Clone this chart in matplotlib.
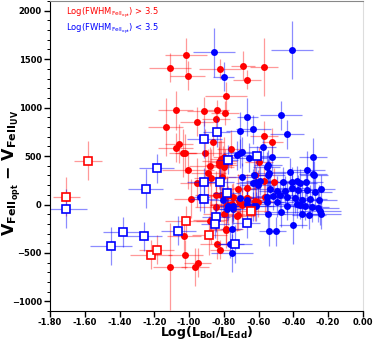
import numpy as np
import matplotlib
matplotlib.use('Agg')
from matplotlib import pyplot as plt
from matplotlib.ticker import MultipleLocator, FormatStrFormatter

# filled circles, Log(FWHM) > 3.5 (red)
red_x = [-1.018, -1.110, -1.008, -0.822, -0.690, -0.665, -0.568, -0.788, -1.077, -0.913,
         -0.842, -0.794, -0.955, -0.844, -1.135, -1.060, -1.077, -1.033, -1.022, -0.909,
         -0.761, -0.861, -0.823, -0.828, -0.882, -1.005, -0.890, -0.804, -0.792, -0.874,
         -0.809, -0.953, -0.717, -0.845, -0.989, -0.817, -0.784, -0.746, -0.778, -0.845,
         -0.669, -0.602, -0.755, -0.723, -0.800, -0.876, -0.787, -0.714, -0.621, -0.569,
         -0.522, -0.622, -0.569, -0.512, -1.110, -1.022, -0.966, -0.951, -0.838, -0.821,
         -1.029, -0.788, -0.880, -0.780, -0.696, -0.721, -0.596, -0.800, -0.800, -0.669,
         -0.698, -0.665, -0.563, -0.817, -0.827]
red_y = [1540, 1410, 1331, 1400, 1434, 1290, 1417, 1115, 971, 964,
         978, 944, 854, 879, 803, 628, 587, 529, 529, 529,
         573, 650, 453, 408, 395, 357, 323, 408, 426, 272,
         282, 226, 161, 100, 62, 100, 90, 76, -10, -27,
         69, 25, 7, -123, -99, -157, -253, 35, 35, 710,
         642, 305, 244, 230, -641, -518, -644, -603, -408, -466,
         -322, -260, -168, -3, 7, -113, 442, 494, 391, 168,
         -3, 66, 76, 467, 442]
red_xerr = [0.12, 0.12, 0.10, 0.12, 0.07, 0.08, 0.08, 0.12, 0.10, 0.10,
            0.07, 0.08, 0.10, 0.08, 0.10, 0.08, 0.10, 0.08, 0.06, 0.10,
            0.08, 0.06, 0.10, 0.08, 0.12, 0.15, 0.10, 0.08, 0.06, 0.10,
            0.08, 0.10, 0.10, 0.12, 0.10, 0.08, 0.10, 0.08, 0.10, 0.12,
            0.10, 0.10, 0.12, 0.10, 0.12, 0.10, 0.10, 0.08, 0.10, 0.08,
            0.06, 0.10, 0.08, 0.10, 0.10, 0.10, 0.08, 0.08, 0.10, 0.06,
            0.10, 0.08, 0.08, 0.10, 0.10, 0.10, 0.08, 0.06, 0.06, 0.08,
            0.10, 0.08, 0.10, 0.06, 0.06]
red_yerr = [180, 150, 150, 100, 150, 100, 300, 150, 200, 150,
            100, 120, 150, 120, 300, 200, 150, 250, 200, 250,
            200, 150, 300, 250, 200, 200, 250, 200, 150, 300,
            200, 250, 150, 250, 200, 200, 200, 150, 200, 250,
            150, 150, 200, 150, 200, 250, 200, 150, 200, 150,
            150, 150, 150, 150, 450, 150, 200, 150, 150, 100,
            200, 150, 200, 150, 150, 150, 150, 200, 150, 150,
            150, 150, 150, 200, 150]

# filled circles, Log(FWHM) < 3.5 (blue)
blue_x = [-0.855, -0.800, -0.409, -0.665, -0.472, -0.707, -0.630, -0.436, -0.577, -0.707,
          -0.698, -0.654, -0.525, -0.286, -0.320, -0.286, -0.420, -0.545, -0.554, -0.541,
          -0.545, -0.282, -0.698, -0.630, -0.612, -0.592, -0.602, -0.458, -0.410, -0.381,
          -0.362, -0.328, -0.238, -0.535, -0.496, -0.449, -0.410, -0.372, -0.324, -0.276,
          -0.554, -0.516, -0.478, -0.438, -0.391, -0.352, -0.304, -0.251, -0.362, -0.334,
          -0.295, -0.257, -0.243, -0.310, -0.248, -0.401, -0.538, -0.500, -0.755, -0.746,
          -0.775, -0.752, -0.765, -0.665, -0.612, -0.545, -0.468, -0.381, -0.554, -0.496,
          -0.438, -0.352, -0.937, -0.803, -0.746, -0.627, -0.630, -0.669, -0.707, -0.784,
          -0.725]
blue_y = [1571, 1317, 1595, 902, 923, 758, 776, 727, 591, 529,
          545, 484, 494, 487, 357, 313, 333, 408, 391, 329,
          305, 302, 282, 220, 237, 247, 203, 237, 237, 247,
          220, 237, 158, 158, 144, 144, 168, 151, 151, 134,
          82, 90, 100, 76, 66, 48, 56, 51, -3, -13,
          -27, -31, -99, -106, -62, -209, -278, -278, -250, -47,
          -13, -500, -404, 7, -20, -96, -82, 10, 31, 21,
          -13, -96, 82, 48, -20, 305, -20, 48, 66, -44,
          508]
blue_xerr = [0.12, 0.06, 0.12, 0.06, 0.12, 0.08, 0.10, 0.10, 0.08, 0.10,
             0.08, 0.10, 0.10, 0.08, 0.10, 0.08, 0.10, 0.08, 0.08, 0.10,
             0.10, 0.08, 0.08, 0.10, 0.10, 0.08, 0.10, 0.10, 0.10, 0.08,
             0.10, 0.10, 0.08, 0.12, 0.10, 0.10, 0.10, 0.10, 0.10, 0.10,
             0.12, 0.10, 0.10, 0.10, 0.10, 0.10, 0.10, 0.10, 0.10, 0.10,
             0.10, 0.12, 0.12, 0.10, 0.12, 0.08, 0.06, 0.06, 0.06, 0.08,
             0.06, 0.12, 0.08, 0.12, 0.10, 0.10, 0.10, 0.10, 0.10, 0.10,
             0.10, 0.10, 0.06, 0.08, 0.08, 0.08, 0.10, 0.10, 0.08, 0.08,
             0.08]
blue_yerr = [250, 150, 300, 200, 150, 200, 150, 150, 150, 150,
             150, 150, 150, 200, 200, 150, 150, 150, 150, 150,
             150, 150, 150, 150, 150, 150, 150, 150, 150, 150,
             150, 150, 150, 150, 150, 150, 150, 150, 150, 150,
             150, 150, 150, 150, 150, 150, 150, 150, 150, 150,
             150, 150, 150, 150, 150, 200, 150, 150, 150, 150,
             150, 200, 150, 150, 150, 150, 150, 150, 150, 150,
             150, 150, 150, 150, 150, 150, 150, 150, 150, 150,
             150]

# open squares
rsq_x = [-1.580, -1.706, -1.018, -0.884, -0.646, -1.221, -1.186]
rsq_y = [453, 79, -165, -319, -62, -518, -466]
rsq_xerr = [0.08, 0.08, 0.12, 0.10, 0.10, 0.12, 0.10]
rsq_yerr = [200, 200, 150, 200, 150, 150, 150]

bsq_x = [-1.706, -1.186, -1.250, -0.913, -0.842, -0.778, -0.608, -0.913, -0.824, -0.784,
         -0.913, -0.845, -0.849, -0.669, -1.378, -1.257, -1.062, -1.449, -0.738]
bsq_y = [-44, 375, 165, 676, 745, 463, 501, 230, 230, 120,
         62, -134, -199, -192, -284, -330, -271, -428, -408]
bsq_xerr = [0.12, 0.10, 0.10, 0.10, 0.08, 0.06, 0.08, 0.10, 0.08, 0.08,
            0.08, 0.08, 0.08, 0.08, 0.12, 0.10, 0.10, 0.12, 0.10]
bsq_yerr = [200, 150, 200, 200, 150, 150, 100, 150, 150, 150,
            150, 150, 150, 150, 150, 150, 150, 200, 200]

fig = plt.figure(figsize=(3.74, 3.43), dpi=100)
ax = fig.add_axes([0.134, 0.093, 0.836, 0.904])

ax.errorbar(red_x, red_y, xerr=red_xerr, yerr=red_yerr, fmt='none', ecolor='red', alpha=0.4, lw=0.9)
ax.errorbar(blue_x, blue_y, xerr=blue_xerr, yerr=blue_yerr, fmt='none', ecolor='blue', alpha=0.45, lw=0.9)
ax.plot(red_x, red_y, 'o', color='red', ms=5, mec='none')
ax.plot(blue_x, blue_y, 'o', color='blue', ms=5, mec='none')

ax.errorbar(rsq_x, rsq_y, xerr=rsq_xerr, yerr=rsq_yerr, fmt='none', ecolor='red', alpha=0.4, lw=0.9)
ax.errorbar(bsq_x, bsq_y, xerr=bsq_xerr, yerr=bsq_yerr, fmt='none', ecolor='blue', alpha=0.45, lw=0.9)
ax.plot(rsq_x, rsq_y, 's', mfc='white', mec='red', mew=1.2, ms=6)
ax.plot(bsq_x, bsq_y, 's', mfc='white', mec='blue', mew=1.2, ms=6)

ax.set_xlim(-1.8, 0.0)
ax.set_ylim(-1100, 2100)
ax.xaxis.set_major_locator(MultipleLocator(0.2))
ax.xaxis.set_major_formatter(FormatStrFormatter('%.2f'))
ax.yaxis.set_major_locator(MultipleLocator(500))
ax.yaxis.set_minor_locator(MultipleLocator(100))
ax.tick_params(which='major', direction='out', length=4, width=1, labelsize=6, pad=2)
ax.tick_params(axis='x', which='major', pad=1)
ax.tick_params(which='minor', direction='out', length=2, width=0.7)
ax.tick_params(top=False, right=False)
for lab in ax.get_xticklabels() + ax.get_yticklabels():
    lab.set_fontweight('bold')

ax.spines['left'].set_color('black')
ax.spines['bottom'].set_color('black')
ax.spines['top'].set_color('#888888')
ax.spines['right'].set_color('#dddddd')

ax.set_xlabel(r'$\mathbf{Log(L_{Bol}/L_{Edd})}$', fontsize=9, va='bottom')
ax.xaxis.set_label_coords(0.5, -0.098)
ax.set_ylabel(r'$\mathbf{V_{FeII_{opt}}}\ \mathbf{-}\ \mathbf{V_{FeII_{UV}}}$', fontsize=11.5, va='center')
ax.yaxis.set_label_coords(-0.121, 0.445)

ax.text(0.05, 0.962, r'Log(FWHM$_{\mathrm{FeII_{opt}}}$) > 3.5', color='red', fontsize=6,
        transform=ax.transAxes, va='center')
ax.text(0.05, 0.91, r'Log(FWHM$_{\mathrm{FeII_{opt}}}$) < 3.5', color='blue', fontsize=6,
        transform=ax.transAxes, va='center')

fig.savefig('out.png', dpi=100)
